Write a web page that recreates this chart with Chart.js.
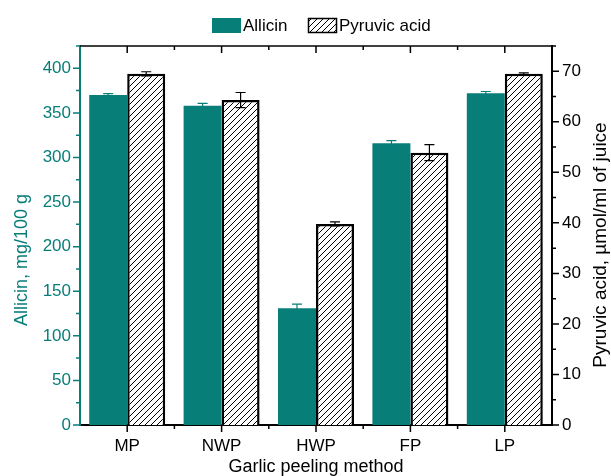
<!DOCTYPE html>
<html>
<head>
<meta charset="utf-8">
<script src="https://cdn.jsdelivr.net/npm/chart.js@4"></script>
<style>
  html, body { margin: 0; padding: 0; background: #fff; }
  #wrap { width: 611px; height: 476px; }
</style>
</head>
<body>
<div id="wrap"><canvas id="chart"></canvas></div>
<script>
const methods = ["MP", "NWP", "HWP", "FP", "LP"];
const allicin = [370, 358, 131, 316, 372];
const allicinErr = [1.5, 2.7, 4.5, 3, 2];
const pyruvic = [69.5, 64.3, 39.8, 53.9, 69.5];
const pyruvicErr = [0.4, 1.5, 0.4, 1.6, 0.2];

const teal = "#087e79";
const font = "Arial, 'Liberation Sans', sans-serif";

// diagonal hatch for the pyruvic acid bars
function hatch() {
  const c = document.createElement("canvas");
  c.width = 6; c.height = 6;
  const g = c.getContext("2d");
  g.fillStyle = "#fff";
  g.fillRect(0, 0, 6, 6);
  g.strokeStyle = "#000";
  g.lineWidth = 1;
  g.beginPath();
  g.moveTo(0, 6); g.lineTo(6, 0);
  g.moveTo(-1, 1); g.lineTo(1, -1);
  g.moveTo(5, 7); g.lineTo(7, 5);
  g.stroke();
  return g.createPattern(c, "repeat");
}
const hatchFill = hatch();

const errors = [allicinErr, pyruvicErr];

const extras = {
  id: "extras",
  afterDatasetsDraw(chart) {
    const ctx = chart.ctx;
    // error bars
    chart.data.datasets.forEach((ds, di) => {
      const meta = chart.getDatasetMeta(di);
      const sc = chart.scales[ds.yAxisID];
      ctx.save();
      ctx.strokeStyle = di === 0 ? teal : "#000";
      ctx.lineWidth = 1.2;
      meta.data.forEach((bar, i) => {
        const v = ds.data[i], e = errors[di][i];
        const yt = sc.getPixelForValue(v + e);
        const yb = sc.getPixelForValue(v - e);
        ctx.beginPath();
        ctx.moveTo(bar.x, yt); ctx.lineTo(bar.x, yb);
        ctx.moveTo(bar.x - 5, yt); ctx.lineTo(bar.x + 5, yt);
        ctx.moveTo(bar.x - 5, yb); ctx.lineTo(bar.x + 5, yb);
        ctx.stroke();
      });
      ctx.restore();
    });
  },
  afterDraw(chart) {
    const ctx = chart.ctx;
    const a = chart.chartArea;
    const x = chart.scales.x, y = chart.scales.y, y1 = chart.scales.y1;
    ctx.save();
    ctx.lineWidth = 1.5;
    // top frame
    ctx.strokeStyle = "#000";
    ctx.beginPath();
    ctx.moveTo(a.left, a.top); ctx.lineTo(a.right, a.top);
    ctx.stroke();
    // x ticks (major at categories, minor between)
    ctx.beginPath();
    for (let i = 0; i < methods.length; i++) {
      const px = x.getPixelForValue(i);
      ctx.moveTo(px, a.bottom); ctx.lineTo(px, a.bottom + 7);
      ctx.moveTo(px, a.top); ctx.lineTo(px, a.top + 7);
      if (i > 0) {
        const mx = (px + x.getPixelForValue(i - 1)) / 2;
        ctx.moveTo(mx, a.bottom); ctx.lineTo(mx, a.bottom + 4);
        ctx.moveTo(mx, a.top); ctx.lineTo(mx, a.top + 4);
      }
    }
    ctx.stroke();
    // right ticks
    ctx.beginPath();
    for (let v = 0; v <= y1.max; v += 5) {
      const py = y1.getPixelForValue(v);
      ctx.moveTo(a.right, py); ctx.lineTo(a.right + (v % 10 === 0 ? 7 : 4), py);
    }
    ctx.stroke();
    // left ticks
    ctx.strokeStyle = teal;
    ctx.beginPath();
    for (let v = 0; v <= y.max; v += 25) {
      const py = y.getPixelForValue(v);
      ctx.moveTo(a.left, py); ctx.lineTo(a.left - (v % 50 === 0 ? 7 : 4), py);
    }
    ctx.stroke();

    // axis titles
    ctx.textAlign = "center";
    ctx.textBaseline = "middle";
    ctx.font = "18px " + font;
    ctx.fillStyle = teal;
    ctx.save();
    ctx.translate(22, 260);
    ctx.rotate(-Math.PI / 2);
    ctx.fillText("Allicin, mg/100 g", 0, 0);
    ctx.restore();
    ctx.font = "19px " + font;
    ctx.fillStyle = "#000";
    ctx.save();
    ctx.translate(601, 245);
    ctx.rotate(-Math.PI / 2);
    ctx.fillText("Pyruvic acid, \u00b5mol/ml of juice", 0, 0);
    ctx.restore();

    // legend
    ctx.font = "17px " + font;
    ctx.textAlign = "left";
    const ds = chart.data.datasets;
    ctx.fillStyle = teal;
    ctx.fillRect(212, 18, 29, 15);
    ctx.fillStyle = "#000";
    ctx.fillText(ds[0].label, 243, 26);
    ctx.fillStyle = hatchFill;
    ctx.fillRect(308, 18, 29, 15);
    ctx.strokeStyle = "#000";
    ctx.lineWidth = 1.5;
    ctx.strokeRect(308.5, 18.5, 28, 14);
    ctx.fillStyle = "#000";
    ctx.fillText(ds[1].label, 339, 26);
    ctx.restore();
  }
};

new Chart(document.getElementById("chart"), {
  type: "bar",
  data: {
    labels: methods,
    datasets: [
      {
        label: "Allicin",
        data: allicin,
        yAxisID: "y",
        backgroundColor: teal,
        borderWidth: 0,
        categoryPercentage: 0.805,
        barPercentage: 1
      },
      {
        label: "Pyruvic acid",
        data: pyruvic,
        yAxisID: "y1",
        backgroundColor: hatchFill,
        borderColor: "#000",
        borderWidth: 2.5,
        categoryPercentage: 0.805,
        barPercentage: 1
      }
    ]
  },
  options: {
    responsive: true,
    maintainAspectRatio: false,
    animation: false,
    layout: { padding: { top: 46, left: 0, right: 0, bottom: 0 } },
    plugins: {
      legend: { display: false },
      tooltip: { enabled: false }
    },
    scales: {
      x: {
        grid: { display: false, drawTicks: false },
        border: { display: true, color: "#000", width: 2 },
        ticks: { color: "#000", font: { family: font, size: 17 }, padding: 11, maxRotation: 0 },
        title: {
          display: true,
          text: "Garlic peeling method",
          color: "#000",
          font: { family: font, size: 18, lineHeight: 1 },
          padding: { top: 0, bottom: 0 }
        },
        afterFit: s => { s.height = 51; }
      },
      y: {
        position: "left",
        min: 0,
        max: 425,
        grid: { display: false, drawTicks: false },
        border: { display: true, color: teal, width: 2 },
        ticks: {
          stepSize: 50,
          color: teal,
          font: { family: font, size: 17 },
          padding: 9,
          callback: v => (v % 50 === 0 && v <= 400 ? v : "")
        },
        afterFit: s => { s.width = 80; }
      },
      y1: {
        position: "right",
        min: 0,
        max: 75,
        grid: { display: false, drawTicks: false },
        border: { display: true, color: "#000", width: 2 },
        ticks: {
          stepSize: 10,
          color: "#000",
          font: { family: font, size: 17 },
          padding: 10,
          callback: v => (v % 10 === 0 && v <= 70 ? v : "")
        },
        afterFit: s => { s.width = 59; }
      }
    }
  },
  plugins: [extras]
});
</script>
</body>
</html>
